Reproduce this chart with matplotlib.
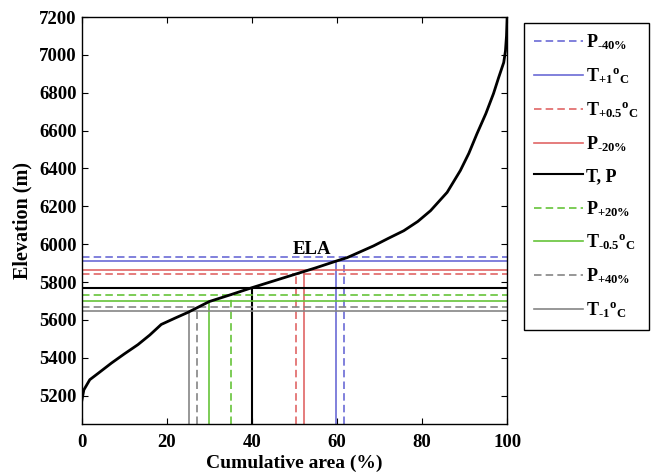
import matplotlib
matplotlib.use("Agg")
import matplotlib.pyplot as plt
from matplotlib.lines import Line2D

plt.rcParams['font.family'] = ['Liberation Serif', 'DejaVu Serif']
plt.rcParams['font.weight'] = 'bold'
plt.rcParams['mathtext.fontset'] = 'custom'
plt.rcParams['mathtext.rm'] = 'Liberation Serif:bold'
plt.rcParams['mathtext.bf'] = 'Liberation Serif:bold'
plt.rcParams['mathtext.it'] = 'Liberation Serif:bold'

# hypsometric curve (cumulative area %, elevation m)
area = [0, 0.5, 1.9, 4, 7, 10, 13.2, 16, 18.7, 22, 25, 30, 35, 40, 45, 50, 55, 60,
        62.4, 65, 68.6, 72, 75.7, 79, 82, 85.9, 89, 91, 92.9, 95, 96.8, 98, 99.2, 99.6, 99.85, 100]
elev = [5170, 5230, 5284, 5320, 5372, 5420, 5469, 5520, 5576, 5610, 5640, 5697, 5733, 5770,
        5805, 5840, 5875, 5912, 5929, 5955, 5991, 6030, 6071, 6120, 6177, 6274, 6389, 6480,
        6583, 6690, 6796, 6880, 6960, 7020, 7100, 7200]

# ELA per scenario
hy = '\u2010'
labels = [r'P$_{\mathrm{' + hy + r'40\%}}$', r'T$_{\mathrm{+1}}$$^{\mathrm{o}}$$_{\mathrm{C}}$',
          r'T$_{\mathrm{+0.5}}$$^{\mathrm{o}}$$_{\mathrm{C}}$', r'P$_{\mathrm{' + hy + r'20\%}}$', 'T, P',
          r'P$_{\mathrm{+20\%}}$', r'T$_{\mathrm{' + hy + r'0.5}}$$^{\mathrm{o}}$$_{\mathrm{C}}$',
          r'P$_{\mathrm{+40\%}}$', r'T$_{\mathrm{' + hy + r'1}}$$^{\mathrm{o}}$$_{\mathrm{C}}$']
ela_area = [61.7, 59.8, 50.4, 52.3, 40.0, 35.1, 30.0, 27.1, 25.2]
ela_elev = [5933, 5911, 5842, 5861, 5770, 5731, 5699, 5670, 5646]
colors = ['#6b6bd6', '#6b6bd6', '#e06666', '#e06666', 'black',
          '#66c43a', '#66c43a', '#858585', '#858585']
styles = ['--', '-', '--', '-', '-', '--', '-', '--', '-']

ymin, ymax = 5050, 7200
dash = (0, (4.5, 2.5))

fig = plt.figure(figsize=(6.51, 4.74), dpi=100)
ax = fig.add_axes([0.1255, 0.1055, 0.6535, 0.8585])

handles = []
for a, e, c, s, lab in zip(ela_area, ela_elev, colors, styles, labels):
    ls = dash if s == '--' else '-'
    lw = 1.5 if c == 'black' else 1.2
    ax.axhline(e, color=c, lw=lw, ls=ls)
    ax.vlines(a, ymin, e, color=c, lw=lw, linestyles=[ls])
    handles.append(Line2D([0], [0], color=c, lw=lw, ls=ls, label=lab))

ax.plot(area, elev, color='black', lw=2)
ax.text(54.2, 5948, 'ELA', fontsize=13.5, fontweight='bold', ha='center', va='baseline')

ax.set_xlim(0, 100)
ax.set_ylim(ymin, ymax)
ax.set_xticks(range(0, 101, 20))
ax.set_yticks(range(5200, 7201, 200))
ax.tick_params(direction='in', top=True, right=True, labelsize=13.5, length=4)
ax.tick_params(axis='x', pad=7)
for sp in ax.spines.values():
    sp.set_linewidth(1.0)
ax.set_xlabel('Cumulative area (%)', fontsize=14, fontweight='bold', labelpad=3)
ax.set_ylabel('Elevation (m)', fontsize=14.5, fontweight='bold', labelpad=5)

leg = fig.legend(handles=handles, loc='upper left', bbox_to_anchor=(0.805, 0.952),
                 fontsize=13, handlelength=2.7, labelspacing=0.78, handletextpad=0.2,
                 borderpad=0.55, borderaxespad=0, fancybox=False, edgecolor='black',
                 framealpha=1)
leg.get_frame().set_linewidth(1.0)

fig.savefig('out.png', dpi=100)
